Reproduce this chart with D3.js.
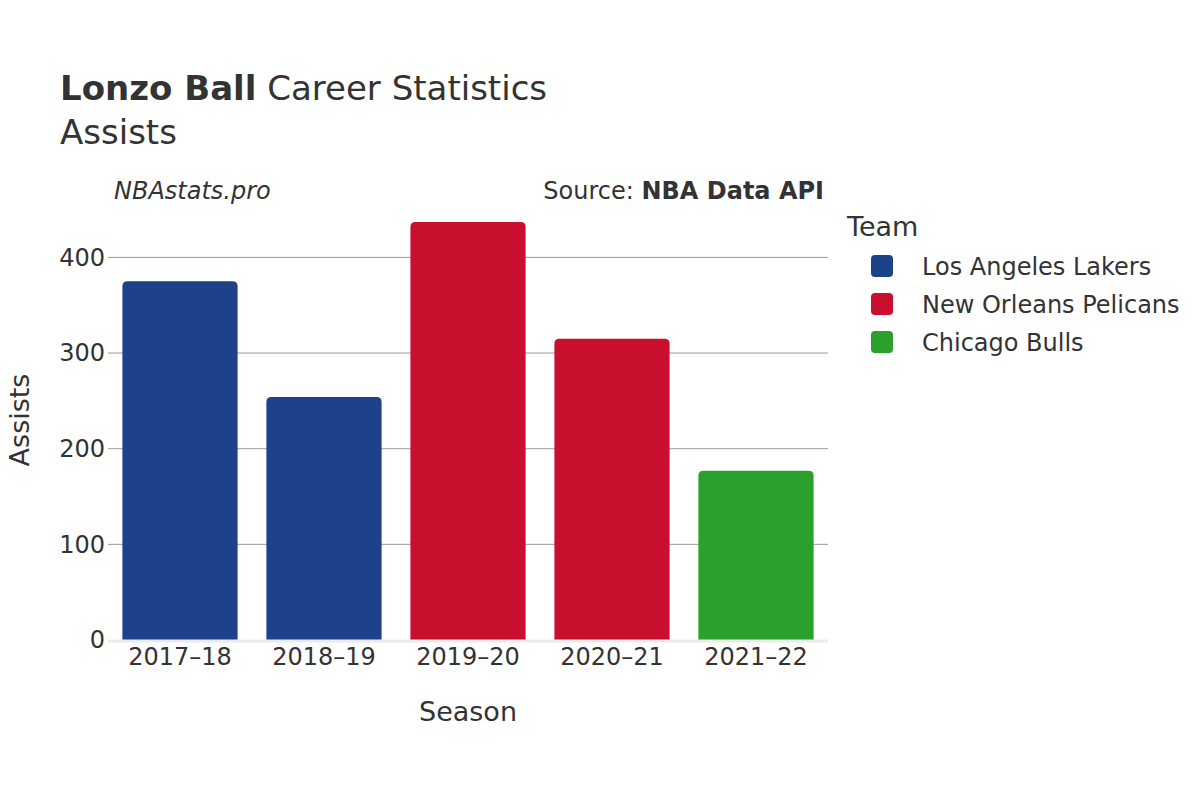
<!DOCTYPE html>
<html>
<head>
<meta charset="utf-8">
<script src="https://cdn.jsdelivr.net/npm/d3@7"></script>
<style>
  body { margin: 0; background: #fff; }
  text { font-family: "DejaVu Sans", sans-serif; fill: #333; }
</style>
</head>
<body>
<div id="chart"></div>
<script>
// chart data
const seasons = ["2017–18", "2018–19", "2019–20", "2020–21", "2021–22"];
const assists = [375, 254, 437, 315, 177];
const seasonTeams = ["Los Angeles Lakers", "Los Angeles Lakers", "New Orleans Pelicans", "New Orleans Pelicans", "Chicago Bulls"];
const teams = ["Los Angeles Lakers", "New Orleans Pelicans", "Chicago Bulls"];
const teamColors = ["#1d428a", "#c8102e", "#2ca02c"];
const yTicks = [0, 100, 200, 300, 400];

const width = 1200, height = 800;
const plot = { left: 108, right: 828, top: 200, bottom: 640 };

const svg = d3.select("#chart").append("svg")
    .attr("width", width)
    .attr("height", height);

// scales
let x = d3.scaleBand().domain(seasons).range([plot.left, plot.right])
    .paddingInner(0.2).paddingOuter(0.1);
let y = d3.scaleLinear().domain([0, 460]).range([plot.bottom, plot.top]);
let color = d3.scaleOrdinal().domain(teams).range(teamColors);

// gridlines
svg.append("g")
    .selectAll("line")
    .data(yTicks.filter(d => d > 0))
    .enter().append("line")
    .attr("x1", plot.left)
    .attr("x2", plot.right)
    .attr("y1", d => y(d))
    .attr("y2", d => y(d))
    .attr("stroke", "#999")
    .attr("stroke-width", 1);

// bars with rounded tops
const r = 5;
svg.append("g")
    .selectAll("path")
    .data(seasons)
    .enter().append("path")
    .attr("fill", (d, i) => color(seasonTeams[i]))
    .attr("d", (d, i) => {
        let x0 = x(d), x1 = x(d) + x.bandwidth();
        let y0 = y(0), y1 = y(assists[i]);
        return "M" + x0 + "," + y0 +
            "V" + (y1 + r) +
            "Q" + x0 + "," + y1 + " " + (x0 + r) + "," + y1 +
            "H" + (x1 - r) +
            "Q" + x1 + "," + y1 + " " + x1 + "," + (y1 + r) +
            "V" + y0 + "Z";
    });

// zero line
svg.append("line")
    .attr("x1", plot.left)
    .attr("x2", plot.right)
    .attr("y1", y(0) + 1)
    .attr("y2", y(0) + 1)
    .attr("stroke", "#ebebeb")
    .attr("stroke-width", 3);

// y axis
let yAxis = svg.append("g")
    .attr("transform", "translate(" + plot.left + ",0)")
    .call(d3.axisLeft(y).tickValues(yTicks).tickSize(0).tickPadding(3));
yAxis.select(".domain").remove();
yAxis.selectAll("text")
    .style("font-size", "24px")
    .attr("font-family", null);

// x axis
let xAxis = svg.append("g")
    .attr("transform", "translate(0," + plot.bottom + ")")
    .call(d3.axisBottom(x).tickSize(0).tickPadding(8));
xAxis.select(".domain").remove();
xAxis.selectAll("text")
    .style("font-size", "24px")
    .attr("font-family", null);

// axis titles
svg.append("text")
    .attr("x", (plot.left + plot.right) / 2)
    .attr("y", 721)
    .attr("text-anchor", "middle")
    .style("font-size", "27px")
    .text("Season");

svg.append("text")
    .attr("transform", "translate(29," + ((plot.top + plot.bottom) / 2) + ") rotate(-90)")
    .attr("text-anchor", "middle")
    .style("font-size", "27px")
    .text("Assists");

// title
let title = svg.append("text")
    .attr("x", 60)
    .attr("y", 100)
    .style("font-size", "34px");
title.append("tspan").attr("font-weight", "bold").text("Lonzo Ball");
title.append("tspan").text(" Career Statistics");

svg.append("text")
    .attr("x", 60)
    .attr("y", 144)
    .style("font-size", "34px")
    .text("Assists");

// source labels
svg.append("text")
    .attr("x", 114)
    .attr("y", 199)
    .style("font-size", "24px")
    .style("font-style", "italic")
    .text("NBAstats.pro");

let source = svg.append("text")
    .attr("x", 824)
    .attr("y", 199)
    .attr("text-anchor", "end")
    .style("font-size", "24px");
source.append("tspan").text("Source: ");
source.append("tspan").attr("font-weight", "bold").text("NBA Data API");

// legend
svg.append("text")
    .attr("x", 847)
    .attr("y", 236)
    .style("font-size", "27px")
    .text("Team");

let legend = svg.selectAll(".legend")
    .data(teams)
    .enter().append("g")
    .attr("class", "legend")
    .attr("transform", (d, i) => "translate(0," + (266 + i * 38) + ")");

legend.append("rect")
    .attr("x", 871)
    .attr("y", -11)
    .attr("width", 22)
    .attr("height", 22)
    .attr("rx", 4)
    .attr("fill", d => color(d));

legend.append("text")
    .attr("x", 922)
    .attr("y", 9)
    .style("font-size", "24px")
    .text(d => d);
</script>
</body>
</html>
